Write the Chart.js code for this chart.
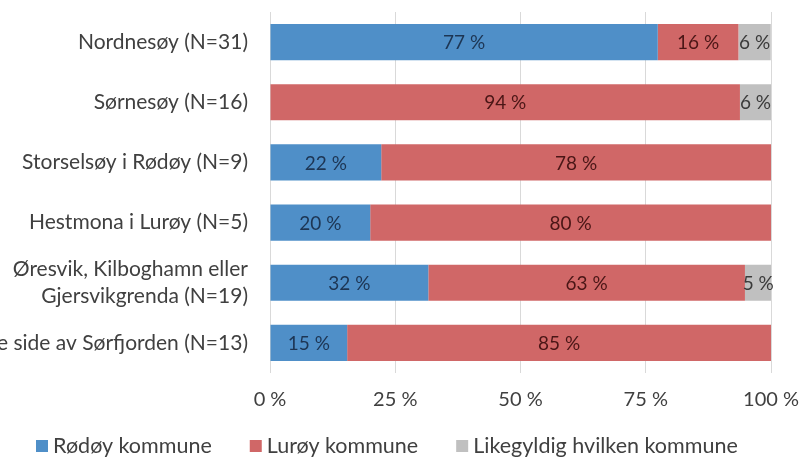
<!DOCTYPE html>
<html>
<head>
<meta charset="utf-8">
<script src="https://cdn.jsdelivr.net/npm/chart.js@4.4.1/dist/chart.umd.min.js"></script>
<style>
  body { margin: 0; background: #fff; }
  #wrap { width: 800px; height: 457px; }
</style>
</head>
<body>
<div id="wrap"><canvas id="chart" width="800" height="457"></canvas></div>
<script>
// Categories (top to bottom)
const places = [
    'Nordnesøy (N=31)',
    'Sørnesøy (N=16)',
    'Storselsøy i Rødøy (N=9)',
    'Hestmona i Lurøy (N=5)',
    ['Øresvik, Kilboghamn eller', 'Gjersvikgrenda (N=19)'],
    'Andre side av Sørfjorden (N=13)'
];

// Shares in percent
const rodoy = [77.4, 0, 22.2, 20, 31.6, 15.4];
const luroy = [16.1, 93.8, 77.8, 80, 63.2, 84.6];
const likegyldig = [6.45, 6.2, 0, 0, 5.3, 0];

const xTicks = [0, 25, 50, 75, 100];

const FONT = 'Lato, "Open Sans", sans-serif';
const textColor = '#404040';

const colors = {
    rodoy: '#4f8fc8',
    luroy: '#d06767',
    likegyldig: '#c0c0c0'
};
const labelColors = ['#1d3553', '#4a1616', '#3a3a3a'];

// Percent labels inside the segments
const segmentLabels = {
    id: 'segmentLabels',
    afterDatasetsDraw(chart) {
        const ctx = chart.ctx;
        ctx.save();
        ctx.font = '19px ' + FONT;
        ctx.textAlign = 'center';
        ctx.textBaseline = 'middle';
        chart.data.datasets.forEach((ds, i) => {
            const meta = chart.getDatasetMeta(i);
            meta.data.forEach((bar, j) => {
                const v = ds.data[j];
                if (!v) return;
                ctx.fillStyle = labelColors[i];
                ctx.fillText(Math.round(v) + ' %', (bar.x + bar.base) / 2, bar.y + 1);
            });
        });
        ctx.restore();
    }
};

// Legend drawn by hand to sit where the original one is
const bottomLegend = {
    id: 'bottomLegend',
    afterDraw(chart) {
        const ctx = chart.ctx;
        ctx.save();
        ctx.font = '21.5px ' + FONT;
        ctx.textBaseline = 'middle';
        let x = 36;
        const y = 446;
        chart.data.datasets.forEach(ds => {
            ctx.fillStyle = ds.backgroundColor;
            ctx.fillRect(x, y - 6, 12, 12);
            x += 17;
            ctx.fillStyle = textColor;
            ctx.fillText(ds.label, x, y);
            x += ctx.measureText(ds.label).width + 38;
        });
        ctx.restore();
    }
};

new Chart(document.getElementById('chart'), {
    type: 'bar',
    data: {
        labels: places,
        datasets: [{
            label: 'Rødøy kommune',
            data: rodoy,
            backgroundColor: colors.rodoy
        }, {
            label: 'Lurøy kommune',
            data: luroy,
            backgroundColor: colors.luroy
        }, {
            label: 'Likegyldig hvilken kommune',
            data: likegyldig,
            backgroundColor: colors.likegyldig
        }]
    },
    options: {
        indexAxis: 'y',
        responsive: false,
        animation: false,
        barPercentage: 0.6,
        categoryPercentage: 1,
        layout: { padding: { top: 12, right: 29, bottom: 30, left: 0 } },
        plugins: {
            legend: { display: false },
            tooltip: { enabled: false }
        },
        scales: {
            x: {
                stacked: true,
                min: 0,
                max: 100,
                afterBuildTicks: scale => { scale.ticks = xTicks.map(v => ({ value: v })); },
                afterFit: scale => { scale.paddingLeft = 0; scale.paddingRight = 0; },
                ticks: {
                    padding: 15,
                    color: textColor,
                    font: { family: FONT, size: 20 },
                    callback: v => v + ' %'
                },
                grid: { color: '#d9d9d9', drawTicks: false },
                border: { display: false }
            },
            y: {
                stacked: true,
                afterFit: scale => {
                    scale.width = 270;
                    scale.paddingTop = 0;
                    scale.paddingBottom = 0;
                },
                ticks: {
                    autoSkip: false,
                    padding: 22,
                    color: textColor,
                    font: { family: FONT, size: 21, lineHeight: 1.3 }
                },
                grid: { display: false, drawTicks: false },
                border: { display: false }
            }
        }
    },
    plugins: [segmentLabels, bottomLegend]
});
</script>
</body>
</html>
